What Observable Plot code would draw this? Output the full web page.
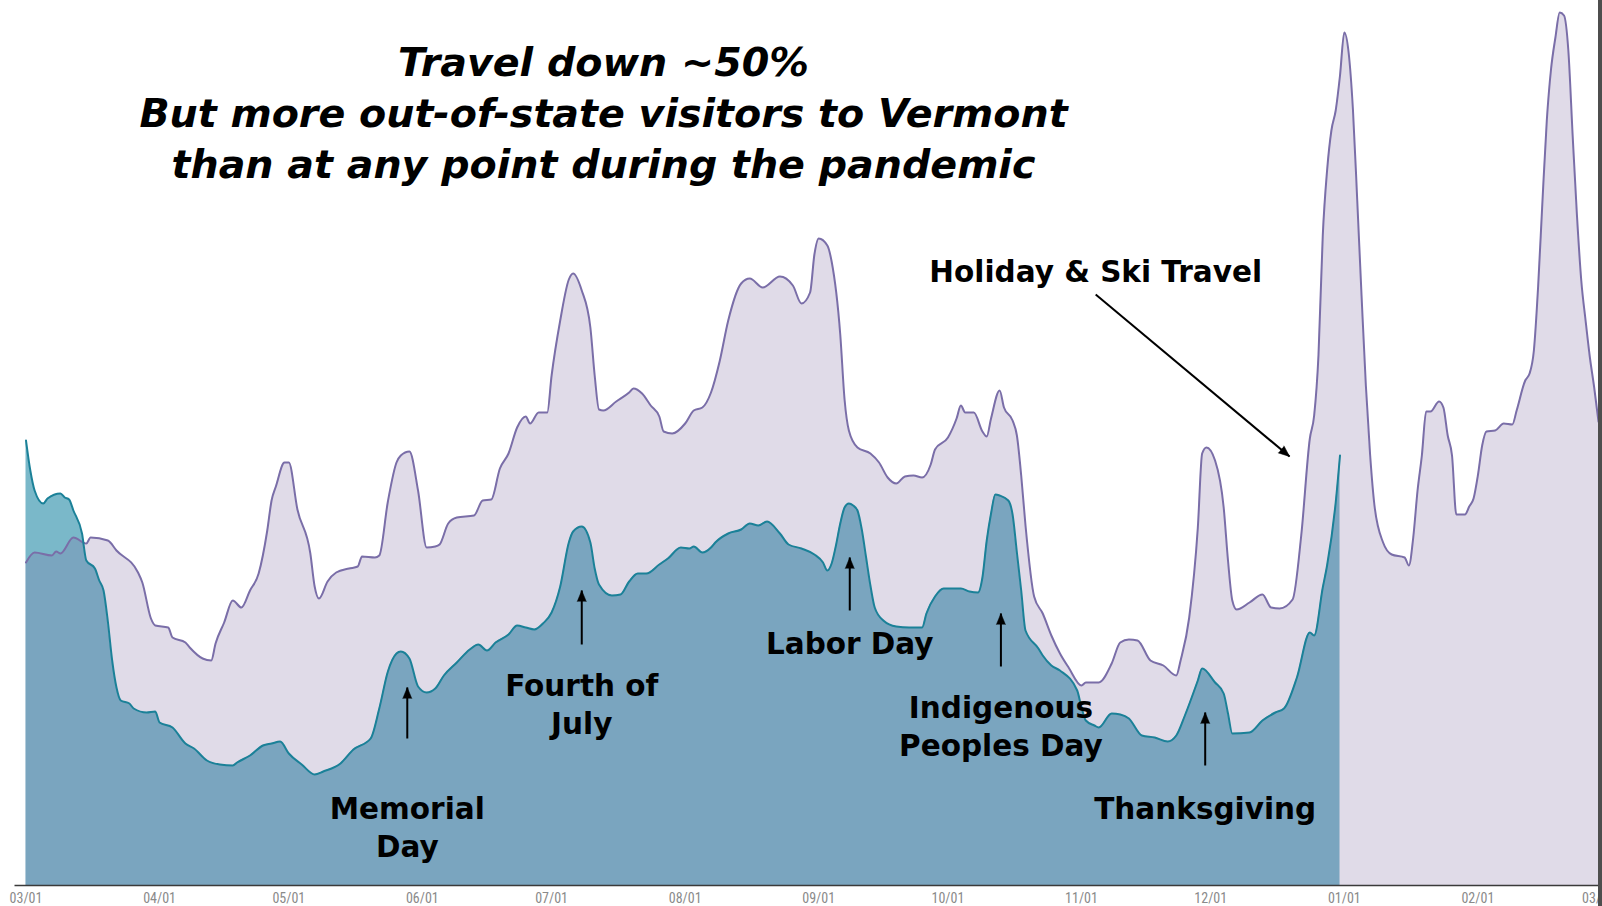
<!DOCTYPE html>
<html>
<head>
<meta charset="utf-8">
<script src="https://cdn.jsdelivr.net/npm/d3@7"></script>
<script src="https://cdn.jsdelivr.net/npm/@observablehq/plot@0.6"></script>
<style>
html, body { margin: 0; padding: 0; background: #fff; overflow: hidden; }
#wrap { position: relative; width: 1602px; height: 906px; }
#edge { position: absolute; top: 0; right: 0; width: 4px; height: 906px; background: #4e4e4e; }
</style>
</head>
<body>
<div id="wrap"><div id="chart"></div><div id="edge"></div></div>
<script>
// ---- Out-of-state visitors (purple) ----
const visitorDates = [
"2020-03-01","2020-03-03","2020-03-07","2020-03-08","2020-03-09","2020-03-12","2020-03-15","2020-03-16","2020-03-20","2020-03-22",
"2020-03-27","2020-03-28","2020-03-30","2020-03-31","2020-04-03","2020-04-04","2020-04-07","2020-04-08","2020-04-11","2020-04-13",
"2020-04-14","2020-04-16","2020-04-18","2020-04-20","2020-04-22","2020-04-24","2020-04-26","2020-04-27","2020-04-28","2020-04-30",
"2020-05-01","2020-05-03","2020-05-06","2020-05-07","2020-05-08","2020-05-10","2020-05-12","2020-05-15","2020-05-17","2020-05-18",
"2020-05-21","2020-05-22","2020-05-24","2020-05-26","2020-05-27","2020-05-29","2020-05-31","2020-06-02","2020-06-04","2020-06-05",
"2020-06-07","2020-06-09","2020-06-13","2020-06-15","2020-06-17","2020-06-19","2020-06-21","2020-06-23","2020-06-25","2020-06-26",
"2020-06-28","2020-06-30","2020-07-01","2020-07-03","2020-07-05","2020-07-06","2020-07-08","2020-07-10","2020-07-11","2020-07-12",
"2020-07-13","2020-07-16","2020-07-19","2020-07-20","2020-07-22","2020-07-24","2020-07-26","2020-07-27","2020-07-29","2020-08-01",
"2020-08-03","2020-08-05","2020-08-07","2020-08-09","2020-08-11","2020-08-14","2020-08-16","2020-08-19","2020-08-23","2020-08-26",
"2020-08-28","2020-08-30","2020-08-31","2020-09-01","2020-09-03","2020-09-04","2020-09-06","2020-09-07","2020-09-08","2020-09-10",
"2020-09-13","2020-09-15","2020-09-17","2020-09-19","2020-09-21","2020-09-23","2020-09-25","2020-09-27","2020-09-28","2020-10-01",
"2020-10-03","2020-10-04","2020-10-05","2020-10-07","2020-10-09","2020-10-10","2020-10-11","2020-10-13","2020-10-14","2020-10-16",
"2020-10-17","2020-10-18","2020-10-19","2020-10-21","2020-10-23","2020-10-25","2020-10-27","2020-10-29","2020-11-01","2020-11-02",
"2020-11-05","2020-11-08","2020-11-10","2020-11-12","2020-11-14","2020-11-17","2020-11-20","2020-11-23","2020-11-24","2020-11-26",
"2020-11-28","2020-11-29","2020-11-30","2020-12-02","2020-12-04","2020-12-05","2020-12-06","2020-12-07","2020-12-10","2020-12-13",
"2020-12-15","2020-12-17","2020-12-20","2020-12-22","2020-12-24","2020-12-25","2020-12-26","2020-12-27","2020-12-28","2020-12-29",
"2020-12-30","2020-12-31","2021-01-01","2021-01-02","2021-01-03","2021-01-04","2021-01-05","2021-01-06","2021-01-07","2021-01-08",
"2021-01-10","2021-01-12","2021-01-15","2021-01-16","2021-01-17","2021-01-18","2021-01-19","2021-01-20","2021-01-21","2021-01-23",
"2021-01-24","2021-01-25","2021-01-26","2021-01-27","2021-01-29","2021-01-30","2021-01-31","2021-02-01","2021-02-02","2021-02-03",
"2021-02-05","2021-02-07","2021-02-09","2021-02-10","2021-02-12","2021-02-13","2021-02-14","2021-02-15","2021-02-16","2021-02-17",
"2021-02-18","2021-02-19","2021-02-20","2021-02-21","2021-02-22","2021-02-23","2021-02-24","2021-02-25","2021-02-26","2021-02-27",
"2021-02-28","2021-03-01"
];
const visitorValues = [
32.3,33.3,33.0,33.4,33.2,34.8,34.2,34.8,34.5,33.5,
31.3,30.3,26.7,26.0,25.8,24.8,24.3,23.8,22.7,22.5,
24.2,26.3,28.5,27.8,29.5,31.2,35.5,38.5,39.9,42.3,
42.3,37.6,33.2,29.9,28.7,30.4,31.3,31.7,31.9,32.9,
32.8,33.0,38.4,42.3,43.0,43.4,39.5,33.8,33.9,34.1,
36.2,36.8,37.0,38.5,38.6,41.7,43.2,45.8,46.9,46.2,
47.3,47.3,51.0,56.5,60.6,61.2,59.5,55.8,51.0,47.6,
47.5,48.4,49.3,49.7,49.2,48.0,46.9,45.4,45.2,46.2,
47.5,47.8,49.3,52.4,56.5,60.2,60.7,59.8,60.9,60.0,
58.2,59.3,63.1,64.7,64.0,62.4,55.1,48.6,45.5,43.8,
43.2,42.3,40.8,40.2,40.9,41.0,40.8,42.1,43.6,44.8,
46.7,48.0,47.3,47.3,45.4,44.9,46.7,49.5,47.8,46.5,
45.0,41.0,36.0,28.9,27.2,25.0,23.2,21.8,20.0,20.3,
20.3,22.2,24.3,24.6,24.5,22.5,22.0,21.0,22.5,26.8,
35.8,43.2,43.8,42.5,37.8,32.5,28.5,27.6,28.3,29.1,
27.8,27.7,28.6,35.0,44.7,47.0,53.0,65.0,71.5,75.5,
77.5,81.0,85.3,83.3,77.6,68.5,59.0,50.0,43.0,38.0,
34.3,33.1,32.8,32.0,34.8,39.5,43.0,47.4,47.4,48.4,
47.8,45.0,43.0,37.1,37.1,37.9,38.7,41.0,44.0,45.4,
45.5,46.2,46.1,47.5,50.5,51.2,53.5,60.0,68.5,76.5,
81.7,84.8,87.3,87.0,83.5,75.0,67.0,60.5,56.5,52.8,
49.8,46.4
];

// ---- Overall travel (teal) ----
const travelDates = [
"2020-03-01","2020-03-02","2020-03-03","2020-03-05","2020-03-06","2020-03-09","2020-03-10","2020-03-11","2020-03-12","2020-03-14",
"2020-03-15","2020-03-17","2020-03-18","2020-03-19","2020-03-20","2020-03-21","2020-03-22","2020-03-23","2020-03-25","2020-03-26",
"2020-03-29","2020-03-31","2020-04-01","2020-04-04","2020-04-07","2020-04-09","2020-04-12","2020-04-15","2020-04-18","2020-04-19",
"2020-04-22","2020-04-25","2020-04-27","2020-04-29","2020-05-01","2020-05-04","2020-05-07","2020-05-09","2020-05-13","2020-05-16",
"2020-05-20","2020-05-22","2020-05-24","2020-05-26","2020-05-27","2020-05-29","2020-05-31","2020-06-02","2020-06-04","2020-06-06",
"2020-06-09","2020-06-12","2020-06-14","2020-06-16","2020-06-18","2020-06-21","2020-06-23","2020-06-25","2020-06-27","2020-06-29",
"2020-07-01","2020-07-03","2020-07-05","2020-07-06","2020-07-08","2020-07-10","2020-07-11","2020-07-12","2020-07-15","2020-07-17",
"2020-07-19","2020-07-21","2020-07-23","2020-07-26","2020-07-28","2020-07-31","2020-08-02","2020-08-03","2020-08-05","2020-08-07",
"2020-08-08","2020-08-11","2020-08-14","2020-08-16","2020-08-18","2020-08-20","2020-08-23","2020-08-25","2020-08-28","2020-08-31",
"2020-09-02","2020-09-03","2020-09-04","2020-09-05","2020-09-06","2020-09-07","2020-09-08","2020-09-09","2020-09-10","2020-09-11",
"2020-09-12","2020-09-13","2020-09-14","2020-09-16","2020-09-19","2020-09-22","2020-09-25","2020-09-26","2020-09-28","2020-09-30",
"2020-10-02","2020-10-04","2020-10-06","2020-10-08","2020-10-09","2020-10-10","2020-10-11","2020-10-12","2020-10-13","2020-10-15",
"2020-10-16","2020-10-17","2020-10-18","2020-10-19","2020-10-22","2020-10-23","2020-10-25","2020-10-27","2020-10-31","2020-11-01",
"2020-11-02","2020-11-04","2020-11-05","2020-11-08","2020-11-10","2020-11-12","2020-11-15","2020-11-18","2020-11-21","2020-11-23",
"2020-11-25","2020-11-28","2020-11-29","2020-12-02","2020-12-04","2020-12-05","2020-12-06","2020-12-10","2020-12-13","2020-12-16",
"2020-12-18","2020-12-21","2020-12-24","2020-12-25","2020-12-27","2020-12-28","2020-12-30","2020-12-31"
];
const travelValues = [
44.5,41.5,39.5,38.2,38.7,39.2,38.8,38.6,37.5,35.2,
32.5,31.7,30.5,29.5,26.4,22.5,19.8,18.5,18.2,17.7,
17.3,17.4,16.3,15.8,14.2,13.7,12.5,12.1,12.0,12.3,
13.0,14.0,14.2,14.4,13.2,12.1,11.1,11.4,12.2,13.6,
14.7,17.7,21.4,23.2,23.4,22.7,19.9,19.3,19.7,21.0,
22.3,23.6,24.1,23.5,24.3,25.1,26.0,25.8,25.6,26.2,
27.3,29.9,34.3,35.4,35.9,34.3,31.7,30.1,29.0,29.1,
30.4,31.2,31.2,32.1,32.7,33.8,33.7,33.9,33.3,33.8,
34.3,35.2,35.6,36.2,36.0,36.4,35.2,34.1,33.7,33.1,
32.3,31.5,32.2,34.0,36.2,37.8,38.2,38.0,37.5,35.6,
32.8,30.0,27.8,26.5,25.9,25.8,25.8,27.2,28.9,29.7,
29.7,29.7,29.4,29.3,30.8,34.5,37.2,39.1,39.0,38.5,
37.1,33.3,29.5,25.5,23.7,23.0,22.0,21.5,19.5,17.8,
16.5,16.0,15.8,17.2,17.1,16.7,15.0,14.8,14.4,15.0,
17.0,20.5,21.7,20.3,19.2,17.2,15.2,15.3,16.5,17.3,
17.7,20.8,25.3,25.0,29.8,32.0,38.3,43.0
];

// ---- Axis ticks ----
const tickDates = ["2020-03-01","2020-04-01","2020-05-01","2020-06-01","2020-07-01","2020-08-01","2020-09-01",
  "2020-10-01","2020-11-01","2020-12-01","2021-01-01","2021-02-01","2021-03-01"];
const tickLabels = ["03/01","04/01","05/01","06/01","07/01","08/01","09/01","10/01","11/01","12/01","01/01","02/01","03/01"];

// ---- Title ----
const titleText = ["Travel down ~50%\nBut more out-of-state visitors to Vermont\nthan at any point during the pandemic"];
const titleDate = ["2020-07-13T01:00:00Z"];
const titleValue = [77.5];

// ---- Annotations ----
const noteTexts = ["Memorial\nDay", "Fourth of\nJuly", "Labor Day", "Indigenous\nPeoples Day", "Thanksgiving", "Holiday & Ski Travel"];
const noteDates = ["2020-05-28T12:00:00Z","2020-07-08T00:00:00Z","2020-09-08T05:00:00Z","2020-10-13T07:00:00Z","2020-11-29T17:00:00Z","2020-11-04T07:00:00Z"];
const noteValues = [6.0, 18.3, 24.4, 16.1, 7.9, 61.6];
const arrowTailDates = ["2020-05-28T12:00:00Z","2020-07-08T00:00:00Z","2020-09-08T05:00:00Z","2020-10-13T07:00:00Z","2020-11-29T17:00:00Z","2020-11-04T07:00:00Z"];
const arrowTailValues = [14.7, 24.1, 27.5, 21.9, 12.0, 59.1];
const arrowHeadDates = ["2020-05-28T12:00:00Z","2020-07-08T00:00:00Z","2020-09-08T05:00:00Z","2020-10-13T07:00:00Z","2020-11-29T17:00:00Z","2020-12-19T07:00:00Z"];
const arrowHeadValues = [19.8, 29.5, 32.8, 27.2, 17.3, 42.9];

// ---- Build ----
const parse = d3.utcParse("%Y-%m-%d");
const visitors = visitorDates.map((d, i) => ({date: parse(d), value: visitorValues[i]}));
const travel = travelDates.map((d, i) => ({date: parse(d), value: travelValues[i]}));
const ticks = tickDates.map(parse);
const tickMap = new Map(ticks.map((d, i) => [+d, tickLabels[i]]));
const notes = noteTexts.map((t, i) => ({text: t, date: new Date(noteDates[i]), value: noteValues[i]}));
const arrows = arrowTailDates.map((d, i) => ({
  x1: new Date(d), y1: arrowTailValues[i],
  x2: new Date(arrowHeadDates[i]), y2: arrowHeadValues[i]
}));
const titles = titleText.map((t, i) => ({text: t, date: new Date(titleDate[i]), value: titleValue[i]}));

const W = 1602, H = 906, ML = 25.5, MR = 4, MT = 0, MB = 21;
const xDomain = [parse(tickDates[0]), parse(tickDates[tickDates.length - 1])];
const yDomain = [0, 88.5];
const xs = Plot.scale({x: {type: "utc", domain: xDomain, range: [ML, W - MR]}});
const ys = Plot.scale({y: {type: "linear", domain: yDomain, range: [H - MB, MT]}});
arrows.forEach(a => {
  const dx = xs.apply(a.x2) - xs.apply(a.x1);
  const dy = ys.apply(a.y2) - ys.apply(a.y1);
  a.angle = Math.atan2(dx, -dy) * 180 / Math.PI;
});

const labelFont = "'DejaVu Sans', 'Open Sans', sans-serif";

const chart = Plot.plot({
  width: W, height: H,
  marginLeft: ML, marginRight: MR, marginTop: MT, marginBottom: MB,
  style: {background: "white", color: "#8a8a8a", fontFamily: "'Liberation Sans Narrow', 'Roboto Condensed', Roboto, sans-serif", fontSize: "14px"},
  x: {type: "utc", domain: xDomain, ticks: ticks, tickFormat: d => tickMap.get(+d), tickSize: 0, tickPadding: 8, label: null},
  y: {domain: yDomain, axis: null},
  marks: [
    Plot.areaY(travel, {x: "date", y: "value", fill: "#7ab8c9", curve: "monotone-x"}),
    Plot.areaY(visitors, {x: "date", y: "value", fill: "#7e699f", fillOpacity: 0.24, curve: "monotone-x"}),
    Plot.lineY(visitors, {x: "date", y: "value", stroke: "#7a6ea8", strokeWidth: 2, curve: "monotone-x"}),
    Plot.lineY(travel, {x: "date", y: "value", stroke: "#1b8198", strokeWidth: 2, curve: "monotone-x"}),
    Plot.ruleY([0], {stroke: "#3a3a3a", strokeWidth: 1.6, insetLeft: -11}),
    Plot.link(arrows, {x1: "x1", y1: "y1", x2: "x2", y2: "y2", stroke: "#000", strokeWidth: 2}),
    Plot.vector(arrows, {x: "x2", y: "y2", rotate: "angle", length: 11, r: 4.5, anchor: "end", shape: "spike", fill: "#000", stroke: "#000", strokeWidth: 0.5}),
    Plot.text(notes, {x: "date", y: "value", text: "text", fill: "#000", fontFamily: labelFont, fontWeight: "bold", fontSize: 29.5, lineHeight: 1.31, textAnchor: "middle", lineAnchor: "middle"}),
    Plot.text(titles, {x: "date", y: "value", text: "text", fill: "#000", fontFamily: labelFont, fontWeight: "bold", fontStyle: "italic", fontSize: 39.6, lineHeight: 1.29, textAnchor: "middle", lineAnchor: "middle"})
  ]
});
document.getElementById("chart").appendChild(chart);
</script>
</body>
</html>
